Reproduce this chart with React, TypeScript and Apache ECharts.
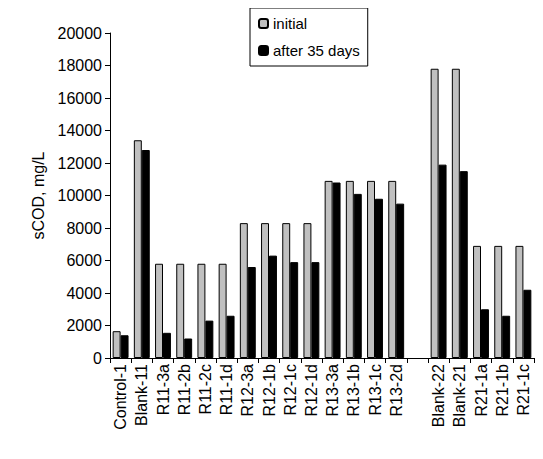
import { useEffect, useRef } from "react";
import * as echarts from "echarts";

const categories = ["Control-1", "Blank-11", "R11-3a", "R11-2b", "R11-2c", "R11-1d", "R12-3a", "R12-1b", "R12-1c", "R12-1d", "R13-3a", "R13-1b", "R13-1c", "R13-2d", "", "Blank-22", "Blank-21", "R21-1a", "R21-1b", "R21-1c"];
const initial = [1650, 13400, 5800, 5800, 5800, 5800, 8300, 8300, 8300, 8300, 10900, 10900, 10900, 10900, null, 17800, 17800, 6900, 6900, 6900];
const after35 = [1400, 12800, 1550, 1200, 2300, 2600, 5600, 6300, 5900, 5900, 10800, 10100, 9800, 9500, null, 11900, 11500, 3000, 2600, 4200];

function App() {
  const chartRef = useRef(null);

  useEffect(() => {
    const chart = echarts.init(chartRef.current, null, { renderer: "svg" });
    const font = "Liberation Sans, Arial, sans-serif";
    chart.setOption({
      animation: false,
      textStyle: { fontFamily: font, color: "#000" },
      grid: { left: 102, right: 1, top: 25, bottom: 93 },
      legend: {
        orient: "vertical",
        left: 242,
        top: 0,
        width: 155,
        itemGap: 12,
        padding: [8, 8, 8, 8],
        borderColor: "#000",
        borderWidth: 1,
        backgroundColor: "#fff",
        itemWidth: 9,
        itemHeight: 9,
        textStyle: { fontSize: 15, fontFamily: font, color: "#000" },
        data: ["initial", "after 35 days"],
      },
      xAxis: {
        type: "category",
        data: categories,
        axisLine: { lineStyle: { color: "#000" } },
        axisTick: { show: true, lineStyle: { color: "#000" } },
        axisLabel: { rotate: 90, interval: 0, fontSize: 16, color: "#000", margin: 6 },
      },
      yAxis: {
        type: "value",
        min: 0,
        max: 20000,
        interval: 2000,
        name: "sCOD, mg/L",
        nameLocation: "middle",
        nameGap: 62,
        nameTextStyle: { fontSize: 16, color: "#000" },
        axisLine: { show: true, lineStyle: { color: "#000" } },
        axisTick: { show: true, lineStyle: { color: "#000" } },
        splitLine: { show: false },
        axisLabel: { fontSize: 16, color: "#000", formatter: (v: number) => String(v) },
      },
      series: [
        {
          name: "initial",
          type: "bar",
          data: initial,
          barGap: "0%",
          barCategoryGap: "25%",
          itemStyle: { color: "#c0c0c0", borderColor: "#000", borderWidth: 1 },
        },
        {
          name: "after 35 days",
          type: "bar",
          data: after35,
          itemStyle: { color: "#000", borderColor: "#000", borderWidth: 1 },
        },
      ],
    });
    return () => {
      chart.dispose();
    };
  }, []);

  return <div ref={chartRef} style={{ width: "527px", height: "443px" }} />;
}

export default App;
